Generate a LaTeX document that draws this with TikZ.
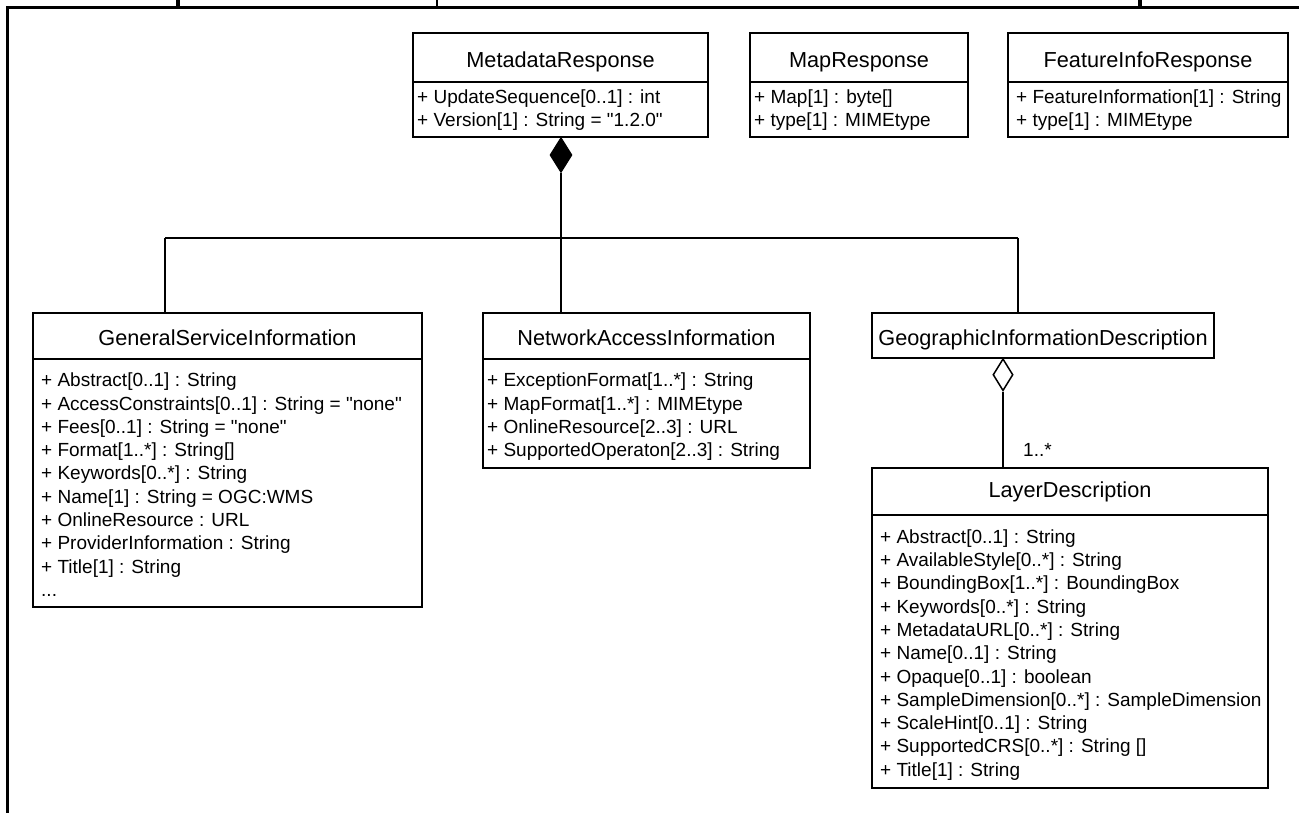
\documentclass[tikz,border=0pt]{standalone}
\usepackage{fontspec}
\setmainfont{Liberation Sans}
\usetikzlibrary{shapes.geometric}
\newcommand{\tfnt}{\fontsize{21.7}{26}\selectfont}
\newcommand{\afnt}{\fontsize{19}{23.3}\selectfont}
\newcommand{\dq}{\XeTeXglyph\XeTeXcharglyph"22 }
\tikzset{
  box/.style={draw, line width=1.8pt, inner sep=0pt, outer sep=0pt, anchor=north west, rectangle},
  ttl/.style={anchor=base, inner sep=0pt, font=\tfnt},
  attr/.style={anchor=north west, inner sep=0pt, align=left, font=\afnt},
  conn/.style={line width=1.8pt},
  frameline/.style={line width=3pt},
}
\begin{document}
\begin{tikzpicture}[x=1pt,y=-1pt]
\useasboundingbox (0,0) rectangle (1299,813);
% frame
\draw[frameline] (7.5,813) -- (7.5,7.5) -- (1299,7.5);
\draw[line width=4pt] (178,0) -- (178,7.5);
\draw[line width=1.5pt] (437,0) -- (437,7.5);
\draw[line width=4pt] (1140,0) -- (1140,7.5);

% MetadataResponse
\node[box, minimum width=295, minimum height=49] (mrT) at (413,33) {};
\node[box, minimum width=295, minimum height=55] (mrB) at (413,82) {};
\node[ttl] (mrTt) at (560.5,68) {MetadataResponse};
\node[attr] (mrBt) at (417,86.7) {\strut+ UpdateSequence[0..1] : int\\+ Version[1] : String = \dq1.2.0\dq};

% MapResponse
\node[box, minimum width=218, minimum height=49] (mapT) at (750,33) {};
\node[box, minimum width=218, minimum height=55] (mapB) at (750,82) {};
\node[ttl] (mapTt) at (859,68) {MapResponse};
\node[attr] (mapBt) at (754,86.7) {\strut+ Map[1] : byte[]\\+ type[1] : MIMEtype};

% FeatureInfoResponse
\node[box, minimum width=280, minimum height=49] (fiT) at (1008,33) {};
\node[box, minimum width=280, minimum height=55] (fiB) at (1008,82) {};
\node[ttl] (fiTt) at (1148,68) {FeatureInfoResponse};
\node[attr] (fiBt) at (1016,86.7) {\strut+ FeatureInformation[1] : String\\+ type[1] : MIMEtype};

% GeneralServiceInformation
\node[box, minimum width=389, minimum height=46] (gsiT) at (33,313) {};
\node[box, minimum width=389, minimum height=248] (gsiB) at (33,359) {};
\node[ttl] (gsiTt) at (227.5,345) {GeneralServiceInformation};
\node[attr] (gsiBt) at (41,370.2) {\strut+ Abstract[0..1] : String\\
+ AccessConstraints[0..1] : String = \dq none\dq\\
+ Fees[0..1] : String = \dq none\dq\\
+ Format[1..*] : String[]\\
+ Keywords[0..*] : String\\
+ Name[1] : String = OGC:WMS\\
+ OnlineResource : URL\\
+ ProviderInformation : String\\
+ Title[1] : String\\
...};

% NetworkAccessInformation
\node[box, minimum width=327, minimum height=46] (naiT) at (483,313) {};
\node[box, minimum width=327, minimum height=109] (naiB) at (483,359) {};
\node[ttl] (naiTt) at (646.5,345) {NetworkAccessInformation};
\node[attr] (naiBt) at (487,370.2) {\strut+ ExceptionFormat[1..*] : String\\
+ MapFormat[1..*] : MIMEtype\\
+ OnlineResource[2..3] : URL\\
+ SupportedOperaton[2..3] : String};

% GeographicInformationDescription
\node[box, minimum width=342, minimum height=45] (gidT) at (872,313) {};
\node[ttl] (gidTt) at (1043,345) {GeographicInformationDescription};

% LayerDescription
\node[box, minimum width=396, minimum height=47] (ldT) at (872,468) {};
\node[box, minimum width=396, minimum height=273] (ldB) at (872,515) {};
\node[ttl] (ldTt) at (1070,497) {LayerDescription};
\node[attr] (ldBt) at (880,526.7) {\strut+ Abstract[0..1] : String\\
+ AvailableStyle[0..*] : String\\
+ BoundingBox[1..*] : BoundingBox\\
+ Keywords[0..*] : String\\
+ MetadataURL[0..*] : String\\
+ Name[0..1] : String\\
+ Opaque[0..1] : boolean\\
+ SampleDimension[0..*] : SampleDimension\\
+ ScaleHint[0..1] : String\\
+ SupportedCRS[0..*] : String []\\
+ Title[1] : String};

% composition
\node[diamond, draw, fill=black, line width=1pt, inner sep=0pt, minimum width=22, minimum height=35, anchor=north] (comp) at (561,137) {};
\coordinate (busL) at (165,238);
\coordinate (busM) at (561,238);
\coordinate (busR) at (1018,238);
\draw[conn] (comp.south) -- (busM);
\draw[conn] (busL) -- (busR);
\draw[conn] (busL) -- (busL |- gsiT.north);
\draw[conn] (busM) -- (busM |- naiT.north);
\draw[conn] (busR) -- (busR |- gidT.north);

% aggregation
\node[diamond, draw, fill=white, line width=1.5pt, inner sep=0pt, minimum width=20, minimum height=32, anchor=north] (agg) at (1003,358) {};
\draw[conn] (agg.south) -- (agg.south |- ldT.north);
\node[anchor=base west, inner sep=0pt, font=\afnt] (mult) at (1023,456.5) {1..*};
\end{tikzpicture}
\end{document}
